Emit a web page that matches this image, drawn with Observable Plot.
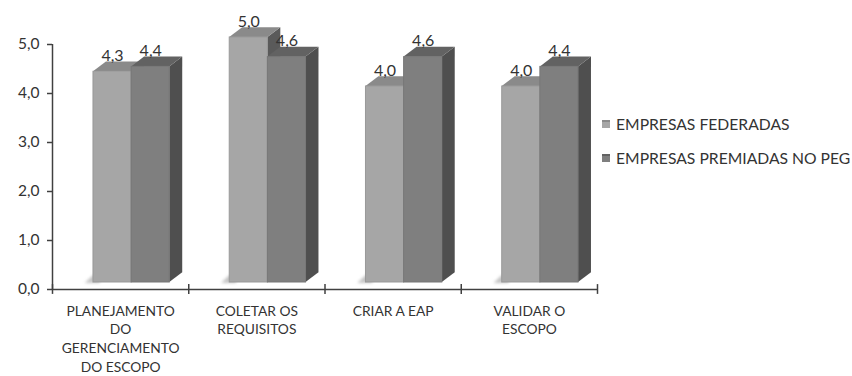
<!DOCTYPE html>
<html>
<head>
<meta charset="utf-8">
<script src="https://cdn.jsdelivr.net/npm/d3@7"></script>
<script src="https://cdn.jsdelivr.net/npm/@observablehq/plot@0.6"></script>
<style>
  body { margin: 0; background: #fff; }
  #chart { position: relative; width: 852px; height: 376px; font-family: Lato, "Open Sans", sans-serif; }
  #chart svg { display: block; }
  .floor-shadow { filter: blur(1.5px); }
  #legend { position: absolute; left: 602px; top: 112px; color: #333; font-size: 15.7px; }
  #legend .item { display: flex; align-items: center; height: 24px; margin-bottom: 10px; white-space: nowrap; }
  #legend .swatch { width: 8px; height: 8px; margin-right: 6px; box-sizing: border-box; }
</style>
</head>
<body>
<div id="chart"></div>
<script>
// Survey averages per scope-management process
const categories = [
  "PLANEJAMENTO DO GERENCIAMENTO DO ESCOPO",
  "COLETAR OS REQUISITOS",
  "CRIAR A EAP",
  "VALIDAR O ESCOPO"
];
const categoryLines = [
  ["PLANEJAMENTO", "DO", "GERENCIAMENTO", "DO ESCOPO"],
  ["COLETAR OS", "REQUISITOS"],
  ["CRIAR A EAP"],
  ["VALIDAR O", "ESCOPO"]
];
const seriesNames = ["EMPRESAS FEDERADAS", "EMPRESAS PREMIADAS NO PEG"];
const federadas = [4.3, 5.0, 4.0, 4.0];
const premiadas = [4.4, 4.6, 4.6, 4.4];
const yTicks = [0, 1, 2, 3, 4, 5];
const xTicks = [0, 1, 2, 3, 4];

// Shades for the faux-3D columns: front, top and side faces
const shades = [
  { front: "#a6a6a6", top: "#8a8a8a", side: "#5a5a5a", edge: "#999999" },
  { front: "#7f7f7f", top: "#626262", side: "#4f4f4f", edge: "#777777" }
];

// Column geometry in scale units (x: category index, y: score)
const BAR = 0.28;      // width of one column
const DEPTH_X = 0.095; // receding depth, horizontal
const DEPTH_Y = 0.2;   // receding depth, vertical
const SHIFT_X = 11, SHIFT_Y = -7; // columns stand on a floor slightly behind the axis

const fmt = d => d.toFixed(1).replace(".", ",");

const rows = categories.flatMap((c, i) => [federadas[i], premiadas[i]].map((v, s) => {
  const x1 = i + 0.5 - BAR + s * BAR;
  return { category: c, i, s, v, x1, x2: x1 + BAR, key: `${i}-${s}` };
}));

const sidePts = rows.flatMap(r => [
  { key: r.key, s: r.s, x: r.x2, y1: 0, y2: r.v },
  { key: r.key, s: r.s, x: r.x2 + DEPTH_X, y1: DEPTH_Y, y2: r.v + DEPTH_Y }
]);
const topPts = rows.flatMap(r => [
  { key: r.key, s: r.s, x: r.x1, y1: r.v, y2: r.v },
  { key: r.key, s: r.s, x: r.x1 + DEPTH_X, y1: r.v, y2: r.v + DEPTH_Y },
  { key: r.key, s: r.s, x: r.x2, y1: r.v, y2: r.v + DEPTH_Y },
  { key: r.key, s: r.s, x: r.x2 + DEPTH_X, y1: r.v + DEPTH_Y, y2: r.v + DEPTH_Y }
]);
// shadow cast on the floor to the left of each pair
const shadowPts = categories.flatMap((c, i) => {
  const left = i + 0.5 - BAR;
  return [
    { key: i, x: left - 0.06, y1: -0.02, y2: -0.02 },
    { key: i, x: left, y1: -0.02, y2: 0.14 },
    { key: i, x: left + 0.05, y1: -0.02, y2: 0.14 }
  ];
});

function columnMarks(s) {
  const c = shades[s];
  return [
    Plot.areaY(sidePts.filter(d => d.s === s), { x: "x", y1: "y1", y2: "y2", z: "key", fill: c.side, dx: SHIFT_X, dy: SHIFT_Y }),
    Plot.areaY(topPts.filter(d => d.s === s), { x: "x", y1: "y1", y2: "y2", z: "key", fill: c.top, dx: SHIFT_X, dy: SHIFT_Y }),
    Plot.rect(rows.filter(d => d.s === s), { x1: "x1", x2: "x2", y1: 0, y2: "v", fill: c.front, stroke: c.edge, strokeWidth: 1, dx: SHIFT_X, dy: SHIFT_Y })
  ];
}

const labelRows = categoryLines.map((lines, i) => ({ i, text: lines.join("\n") }));

const chart = Plot.plot({
  width: 852,
  height: 376,
  marginLeft: 52,
  marginRight: 255,
  marginTop: 44,
  marginBottom: 87,
  style: { fontFamily: "Lato, 'Open Sans', sans-serif", color: "#333", background: "#fff" },
  x: { domain: [0, 4], axis: null },
  y: { domain: [0, 5], axis: null },
  marks: [
    Plot.areaY(shadowPts, { x: "x", y1: "y1", y2: "y2", z: "key", fill: "#c4c4c4", className: "floor-shadow", dx: SHIFT_X, dy: SHIFT_Y }),
    ...columnMarks(0),
    ...columnMarks(1),
    Plot.text(rows, {
      x: d => (d.x1 + d.x2) / 2, y: "v", text: d => fmt(d.v),
      dx: SHIFT_X, dy: SHIFT_Y - 11, lineAnchor: "bottom", fontSize: 16, fill: "#333"
    }),
    // axes
    Plot.ruleY([0], { x1: 0, x2: 4, stroke: "#404040", strokeWidth: 1.5 }),
    Plot.ruleX([0], { y1: 0, y2: 5, stroke: "#404040", strokeWidth: 1.5 }),
    Plot.ruleX(xTicks, { x: d => d, y1: -0.1, y2: 0.1, stroke: "#404040", strokeWidth: 1.5 }),
    Plot.axisY({ ticks: yTicks, tickSize: 5, tickPadding: 8, tickFormat: fmt, fontSize: 15.5, label: null, stroke: "#404040", strokeWidth: 1.5 }),
    Plot.text(labelRows, {
      x: d => d.i + 0.5, y: 0, text: "text", lineAnchor: "top", lineHeight: 1.35,
      dy: 13, fontSize: 13.8, fill: "#333"
    })
  ]
});

const root = document.getElementById("chart");
root.appendChild(chart);

// legend to the right of the plot area
const legend = document.createElement("div");
legend.id = "legend";
seriesNames.forEach((name, s) => {
  const item = document.createElement("div");
  item.className = "item";
  const sw = document.createElement("span");
  sw.className = "swatch";
  sw.style.background = shades[s].front;
  sw.style.borderTop = `2px solid ${shades[s].top}`;
  const label = document.createElement("span");
  label.textContent = name;
  item.append(sw, label);
  legend.appendChild(item);
});
root.appendChild(legend);
</script>
</body>
</html>
